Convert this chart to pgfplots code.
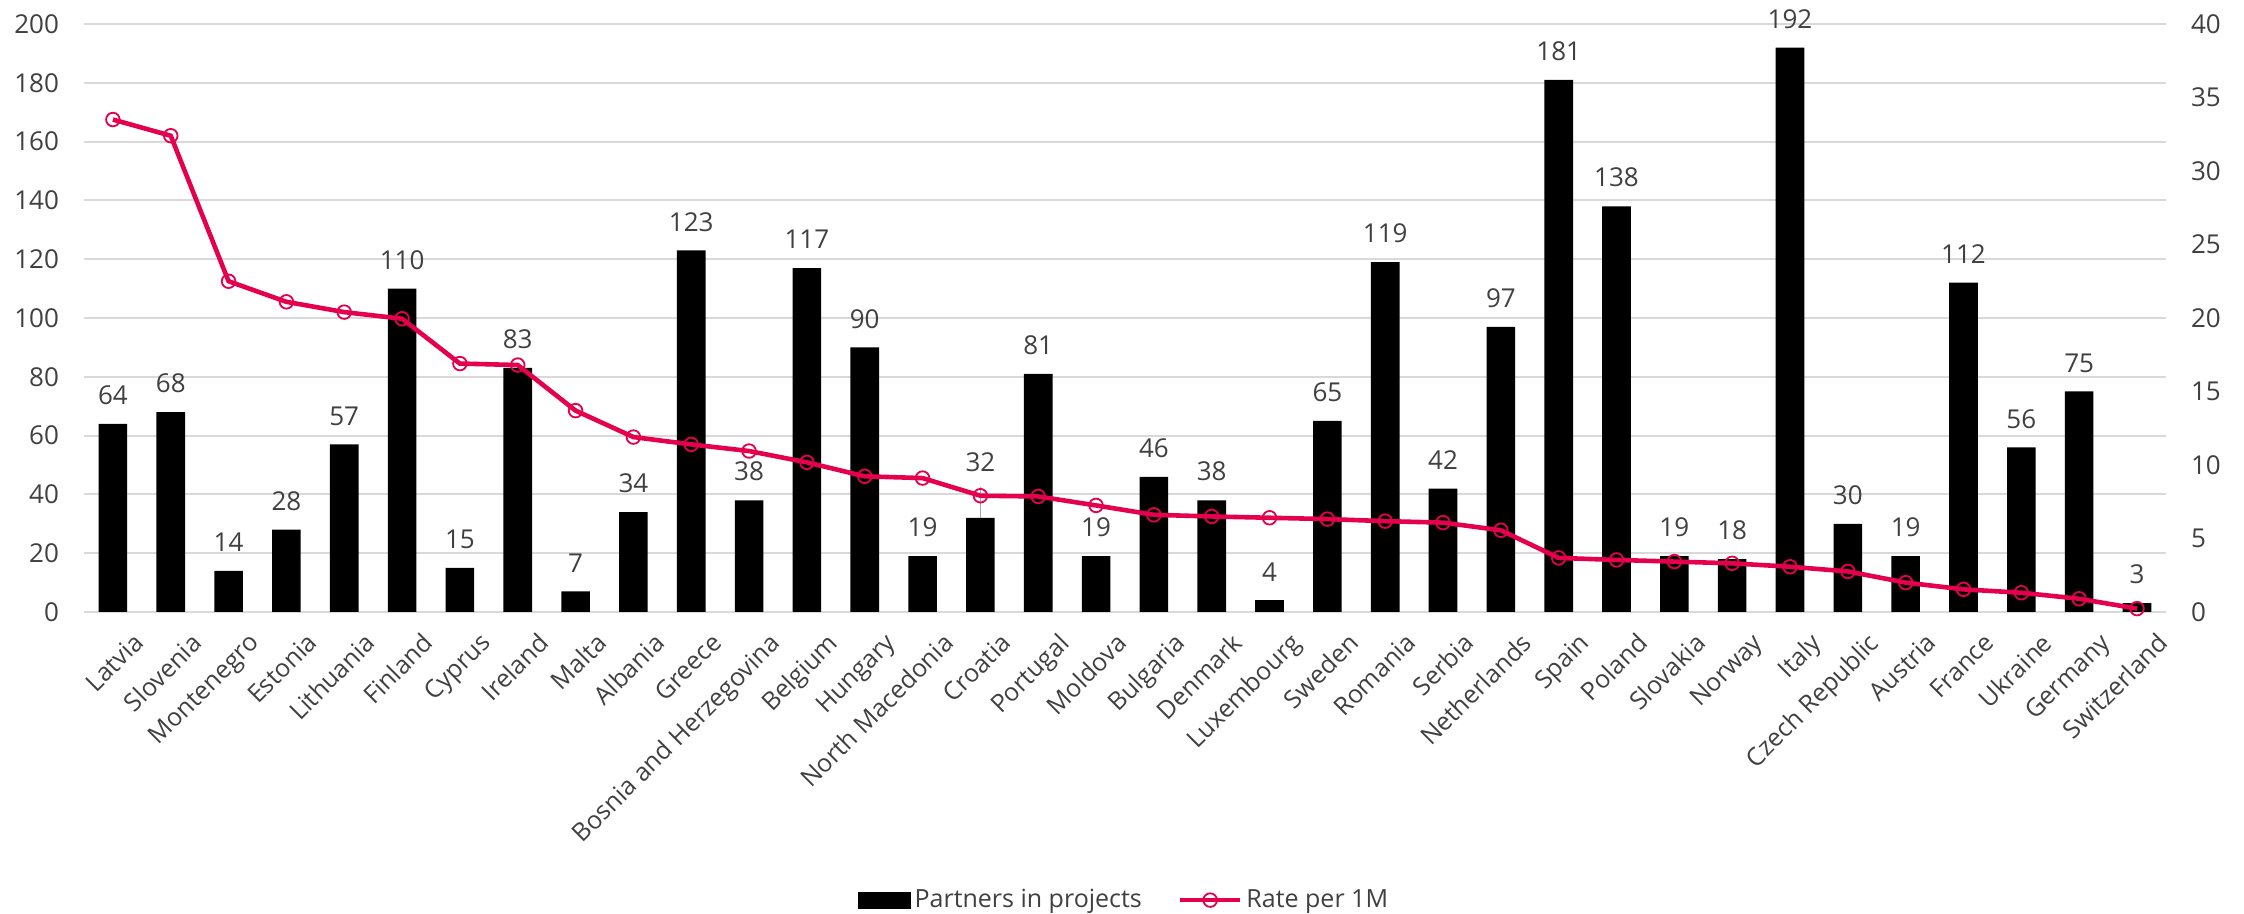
\documentclass[border=0pt]{standalone}
\usepackage{fontspec}
\setmainfont{Open Sans}
\usepackage{pgfplots}
\usepackage{pgfplotstable}
\pgfplotsset{compat=1.18}
\definecolor{rate}{RGB}{228,0,77}
\definecolor{gridc}{RGB}{217,217,217}
\definecolor{txt}{RGB}{64,64,64}
\newcommand{\lblfont}{\fontsize{12.5}{15}\selectfont}
\newcommand{\numfont}{\fontsize{13}{15}\selectfont}
\pgfplotsset{ratelegend/.style={legend image code/.code={\draw[mark repeat=2,mark phase=2,##1] plot coordinates {(0pt,0pt) (15pt,0pt) (30pt,0pt)};}}}
\pgfplotstableread[row sep=\\]{
x y s\\
0 64 6\\ 1 68 6\\ 2 14 6\\ 3 28 6\\ 4 57 6\\ 5 110 6\\ 6 15 6\\ 7 83 6\\ 8 7 6\\ 9 34 6\\
10 123 6\\ 11 38 6\\ 12 117 6\\ 13 90 6\\ 14 19 6\\ 15 32 19.5\\ 16 81 6\\ 17 19 6\\ 18 46 6\\ 19 38 6\\
20 4 6\\ 21 65 6\\ 22 119 6\\ 23 42 6\\ 24 97 6\\ 25 181 6\\ 26 138 6\\ 27 19 6\\ 28 18 6\\ 29 192 6\\
30 30 6\\ 31 19 6\\ 32 112 6\\ 33 56 6\\ 34 75 6\\ 35 3 6\\
}\partners
\pgfplotstableread[row sep=\\]{
x r\\
0 33.5\\ 1 32.4\\ 2 22.5\\ 3 21.1\\ 4 20.4\\ 5 19.95\\ 6 16.9\\ 7 16.8\\ 8 13.7\\ 9 11.9\\
10 11.4\\ 11 10.95\\ 12 10.18\\ 13 9.23\\ 14 9.11\\ 15 7.91\\ 16 7.86\\ 17 7.25\\ 18 6.61\\ 19 6.5\\
20 6.41\\ 21 6.32\\ 22 6.18\\ 23 6.08\\ 24 5.56\\ 25 3.68\\ 26 3.54\\ 27 3.43\\ 28 3.31\\ 29 3.08\\
30 2.76\\ 31 2.0\\ 32 1.54\\ 33 1.31\\ 34 0.9\\ 35 0.23\\
}\rates
\begin{document}
\begin{tikzpicture}
\begin{axis}[
  scale only axis, width=1041pt, height=294pt,
  xmin=-0.5, xmax=35.5, ymin=0, ymax=200,
  ytick={0,20,...,200},
  xtick={0,...,35},
  xticklabels={Latvia,Slovenia,Montenegro,Estonia,Lithuania,Finland,Cyprus,Ireland,Malta,Albania,Greece,Bosnia and Herzegovina,Belgium,Hungary,North Macedonia,Croatia,Portugal,Moldova,Bulgaria,Denmark,Luxembourg,Sweden,Romania,Serbia,Netherlands,Spain,Poland,Slovakia,Norway,Italy,Czech Republic,Austria,France,Ukraine,Germany,Switzerland},
  axis y line*=left, axis x line*=bottom,
  y axis line style={draw=none},
  x axis line style={gridc, line width=1pt, -},
  ymajorgrids, grid style={gridc, line width=1pt},
  major tick length=0pt,
  tick label style={font=\numfont, text=txt},
  /pgf/number format/assume math mode=true,
  yticklabel style={xshift=-9pt},
  xticklabel style={font=\lblfont, rotate=45, anchor=north east, inner sep=0pt, xshift=0pt, yshift=-13.5pt},
  ybar, bar width=14.3pt,
  clip=false,
]
\draw[gray!70, line width=0.6pt] (axis cs:15,32) -- (axis cs:15,42.6);
\addplot[fill=black, draw=none,
  visualization depends on={\thisrow{s}\as\lblshift},
  nodes near coords,
  nodes near coords style={font=\numfont, text=txt, yshift=\lblshift*1pt}]
  table[x=x, y=y] {\partners};
\end{axis}
\begin{axis}[
  scale only axis, width=1041pt, height=294pt,
  xmin=-0.5, xmax=35.5, ymin=0, ymax=40,
  ytick={0,5,...,40},
  axis y line*=right, axis x line=none,
  y axis line style={draw=none},
  major tick length=0pt,
  tick label style={font=\numfont, text=txt},
  /pgf/number format/assume math mode=true,
  yticklabel style={xshift=9pt},
  clip=false,
  legend columns=2,
  legend style={at={(0.5,-0.49)}, anchor=center, draw=none, font=\lblfont, text=txt,
    /tikz/every even column/.append style={column sep=16pt},
    cells={anchor=west}},
]
\addlegendimage{legend image code/.code={\fill[black] (0pt,-4pt) rectangle (26pt,4pt);}}
\addlegendentry{Partners in projects}
\addplot[rate, line width=2.3pt, mark=o, mark size=3.4pt, mark options={line width=0.9pt}, ratelegend]
  table[x=x, y=r] {\rates};
\addlegendentry{Rate per 1M}
\end{axis}
\pgfresetboundingbox
\path (-42pt,-151pt) rectangle (1080pt,306pt);
\end{tikzpicture}
\end{document}
